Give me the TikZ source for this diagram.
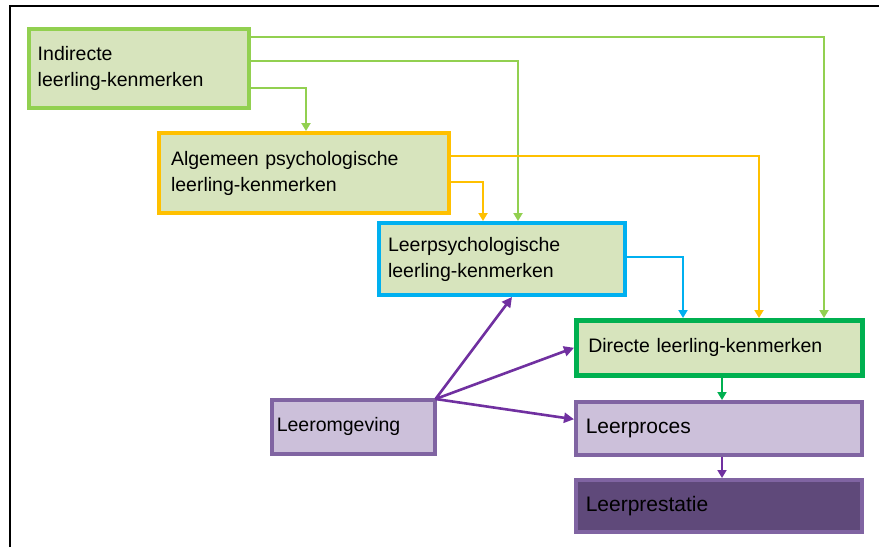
\documentclass[tikz,border=0pt]{standalone}
\usepackage{fontspec}
\setmainfont{Liberation Sans}
\usetikzlibrary{arrows.meta}
\definecolor{lgreen}{HTML}{92D050}
\definecolor{lfill}{HTML}{D7E4BD}
\definecolor{orng}{HTML}{FFC000}
\definecolor{blu}{HTML}{00B0F0}
\definecolor{dgreen}{HTML}{00B050}
\definecolor{purp}{HTML}{8064A2}
\definecolor{parrow}{HTML}{7030A0}
\definecolor{pfill}{HTML}{CCC0DA}
\definecolor{dpurp}{HTML}{5F497A}
\begin{document}
\begin{tikzpicture}[x=1pt,y=-1pt,
  box/.style={draw, rectangle, anchor=north west, inner xsep=9pt, inner ysep=2pt,
    align=left, font=\fontsize{19.5}{26}\selectfont, text=black},
  conn/.style={line width=2.4pt, -{Triangle[width=9pt,length=8pt]}},
  pconn/.style={line width=2.6pt, draw=parrow, -{Triangle[width=10pt,length=10pt]}}]
\useasboundingbox (0,0) rectangle (879,547);
\fill[white] (0,0) rectangle (879,547);
\draw[line width=2pt, black] (10,547) -- (10,6) -- (879,6);

\node[box, draw=lgreen, fill=lfill, line width=3.5pt, minimum width=220pt, minimum height=79pt, text width=202pt] (ind) at (27,27) {Indirecte\\leerling-kenmerken};
\node[box, draw=orng, fill=lfill, line width=4pt, minimum width=284pt, minimum height=80pt, text width=266pt, inner xsep=12pt] (alg) at (157,131) {Algemeen psychologische\\leerling-kenmerken};
\node[box, draw=blu, fill=lfill, line width=4pt, minimum width=246pt, minimum height=72pt, text width=228pt] (lps) at (377,221) {Leerpsychologische\\leerling-kenmerken};
\node[box, draw=dgreen, fill=lfill, line width=4.5pt, minimum width=286pt, minimum height=55pt, text width=262pt, inner xsep=12pt] (dk) at (574,318) {Directe leerling-kenmerken};
\node[box, draw=purp, fill=pfill, line width=3.5pt, minimum width=163pt, minimum height=54pt, text width=153pt, inner xsep=5pt] (leo) at (270,398) {Leeromgeving};
\node[box, draw=purp, fill=pfill, line width=3.5pt, minimum width=286pt, minimum height=53pt, text width=266pt, inner xsep=10pt, font=\fontsize{21}{26}\selectfont] (lpr) at (574,400) {Leerproces};
\node[box, draw=purp, fill=dpurp, line width=3.5pt, minimum width=286pt, minimum height=52pt, text width=266pt, inner xsep=10pt, font=\fontsize{21}{26}\selectfont] (lpt) at (574,478) {Leerprestatie};

% green connectors from Indirecte
\draw[conn, draw=lgreen] ([yshift=-10pt]ind.north east) -| ([xshift=250pt]dk.north west);
\draw[conn, draw=lgreen] ([yshift=-34pt]ind.north east) -| ([xshift=141pt]lps.north west);
\draw[conn, draw=lgreen] ([yshift=-61pt]ind.north east) -| ([xshift=149pt]alg.north west);
% orange connectors from Algemeen
\draw[conn, draw=orng] ([yshift=-25pt]alg.north east) -| ([xshift=185pt]dk.north west);
\draw[conn, draw=orng] ([yshift=-51pt]alg.north east) -| ([xshift=106pt]lps.north west);
% blue connector
\draw[conn, draw=blu, line width=1.8pt] ([yshift=-36pt]lps.north east) -| ([xshift=109pt]dk.north west);
% vertical connectors
\draw[conn, draw=dgreen, line width=1.8pt] ([xshift=148pt]dk.south west) -- ([xshift=148pt]lpr.north west);
\draw[conn, draw=parrow, line width=1.8pt] ([xshift=148pt]lpr.south west) -- ([xshift=148pt]lpt.north west);
% purple connectors from Leeromgeving
\coordinate (src) at ([xshift=-1pt,yshift=-1pt]leo.north east);
\draw[pconn] (src) -- ([xshift=135pt]lps.south west);
\draw[pconn] (src) -- (dk.west);
\draw[pconn] (src) -- ([yshift=9pt]lpr.west);
\end{tikzpicture}
\end{document}
